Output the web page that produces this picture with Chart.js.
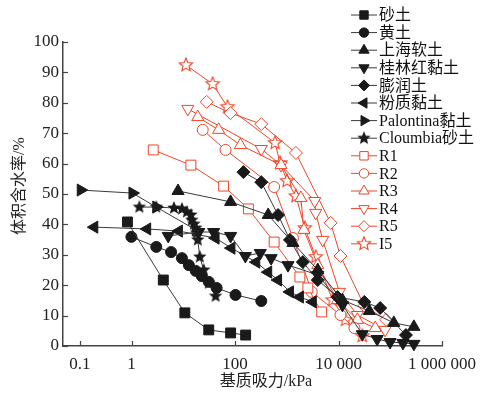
<!DOCTYPE html>
<html>
<head>
<meta charset="utf-8">
<script src="https://cdn.jsdelivr.net/npm/chart.js@4"></script>
<style>
  html, body { margin: 0; padding: 0; background: #fff; }
</style>
</head>
<body>
<canvas id="chart" width="484" height="395"></canvas>
<script>
(function () {
  'use strict';

  // suction (kPa) / volumetric water content (%)
  var shaTuX = [0.83, 4.1, 10.7, 31, 82, 160];
  var shaTuY = [40.8, 21.7, 10.9, 5.3, 4.3, 3.6];
  var huangTuX = [0.99, 3.0, 5.8, 9.4, 12.8, 17.4, 22.7, 31, 44, 102, 321];
  var huangTuY = [35.9, 32.6, 30.9, 28.9, 26.6, 24.7, 23.0, 21.1, 19.1, 16.8, 14.8];
  var shanghaiX = [7.9, 82, 437, 1315, 3960, 11900, 39300, 117000, 286000];
  var shanghaiY = [51, 47.4, 43.1, 33.9, 25, 15.1, 11.5, 7.6, 6.3];
  var guilinX = [5.1, 19.9, 38.5, 82, 158, 307, 498, 1055, 3960, 11900, 28800, 55800, 99100, 176000, 286000];
  var guilinY = [36.2, 37.5, 37.5, 36.2, 29.6, 30.6, 28.9, 26.6, 23.4, 13.5, 3.9, 2.3, 1.3, 1.0, 0.7];
  var pengrunX = [145, 321, 678, 1150, 2040, 3960, 9570, 31500, 63800, 201000];
  var pengrunY = [57.2, 53.9, 43.1, 34.9, 27.6, 21.7, 16.1, 14.5, 12.5, 3.6];
  var fenzhiX = [0.19, 2.0, 8.2, 42, 85, 257, 437, 678, 1150, 1790, 3180];
  var fenzhiY = [39.1, 38.5, 37.8, 35.5, 32.2, 27.6, 24.3, 21.7, 17.8, 16.1, 14.5];
  var palontinaX = [0.104, 1.04, 3.0, 17.4];
  var palontinaY = [51.3, 50.3, 45.7, 38.2];
  var cloumbiaX = [1.41, 3.0, 6.6, 9.4, 11.7, 14, 14.6, 16, 17.4, 18.2, 19, 20.8, 24.8, 31, 42];
  var cloumbiaY = [45.7, 45.7, 45.4, 45.1, 44.1, 43.1, 41.4, 40.1, 38.8, 37.2, 34.9, 29.3, 25, 20.7, 16.4];
  var r1X = [2.62, 14.0, 60, 181, 569, 1790, 2550, 4720];
  var r1Y = [64.5, 59.5, 52.6, 45.1, 34.2, 22.7, 19.1, 11.2];
  var r2X = [23.7, 65.5, 569, 1315, 3040, 10900, 20300];
  var r2Y = [71.1, 64.5, 52.3, 35.5, 17.8, 10.2, 5.9];
  var r3X = [19.0, 48.1, 127, 774, 1870, 2140, 3960, 9570, 23100, 51200];
  var r3Y = [75.3, 71.1, 66.1, 59.5, 48.7, 38.2, 26.6, 15.1, 8.6, 5.9];
  var r4X = [12.2, 321, 774, 3470, 3620, 4940, 10400, 23100, 79500];
  var r4Y = [78.0, 64.8, 59.5, 47.7, 43.8, 34.9, 17.8, 10.2, 5.3];
  var r5X = [28.3, 81.6, 321, 1500, 7030, 10900, 31500, 83100];
  var r5Y = [80.3, 76.6, 73.0, 63.5, 40.5, 29.6, 13.2, 8.6];
  var i5X = [11.2, 36.9, 71.5, 594, 741, 1010, 1500, 2230, 3620, 7670, 13600, 28800];
  var i5Y = [92.4, 86.2, 78.6, 66.8, 60.2, 54.3, 49.3, 38.8, 29.3, 15.1, 8.6, 3.3];

  var xTicks = [0.1, 1, 100, 10000, 1000000];
  var xTickLabels = ['0.1', '1', '100', '10 000', '1 000 000'];
  var xTitle = '基质吸力/kPa';
  var yTitle = '体积含水率/%';

  var BLACK = '#1a1a1a';
  var LINE = '#3a3a3a';
  var RED = '#ee4628';
  var FONT = '"Liberation Serif", "Noto Sans CJK SC", serif';

  function starCanvas(fill, stroke, r) {
    var s = Math.ceil(r * 2 + 4);
    var c = document.createElement('canvas');
    c.width = s; c.height = s;
    var g = c.getContext('2d');
    g.beginPath();
    for (var i = 0; i < 10; i++) {
      var a = -Math.PI / 2 + i * Math.PI / 5;
      var rr = i % 2 ? r * 0.45 : r;
      g.lineTo(s / 2 + rr * Math.cos(a), s / 2 + rr * Math.sin(a));
    }
    g.closePath();
    if (fill) { g.fillStyle = fill; g.fill(); }
    if (stroke) { g.strokeStyle = stroke; g.lineWidth = 1.1; g.stroke(); }
    return c;
  }

  function series(label, xs, ys, color, lineColor, style, rot, r, fill) {
    return {
      label: label,
      data: xs.map(function (x, i) { return { x: x, y: ys[i] }; }),
      showLine: true,
      borderColor: lineColor,
      borderWidth: 1,
      pointStyle: style,
      rotation: rot,
      pointRadius: r,
      pointHoverRadius: r,
      pointBackgroundColor: fill,
      pointBorderColor: color,
      pointBorderWidth: 1,
      clip: false
    };
  }

  var datasets = [
    series('砂土', shaTuX, shaTuY, BLACK, LINE, 'rect', 0, 7, BLACK),
    series('黄土', huangTuX, huangTuY, BLACK, LINE, 'circle', 0, 5.5, BLACK),
    series('上海软土', shanghaiX, shanghaiY, BLACK, LINE, 'triangle', 0, 7, BLACK),
    series('桂林红黏土', guilinX, guilinY, BLACK, LINE, 'triangle', 180, 7, BLACK),
    series('膨润土', pengrunX, pengrunY, BLACK, LINE, 'rectRot', 0, 6.5, BLACK),
    series('粉质黏土', fenzhiX, fenzhiY, BLACK, LINE, 'triangle', 270, 7, BLACK),
    series('Palontina黏土', palontinaX, palontinaY, BLACK, LINE, 'triangle', 90, 7, BLACK),
    series('Cloumbia砂土', cloumbiaX, cloumbiaY, BLACK, LINE, starCanvas(BLACK, null, 7), 0, 7, BLACK),
    series('R1', r1X, r1Y, RED, RED, 'rect', 0, 7, '#fff'),
    series('R2', r2X, r2Y, RED, RED, 'circle', 0, 5.5, '#fff'),
    series('R3', r3X, r3Y, RED, RED, 'triangle', 0, 7, '#fff'),
    series('R4', r4X, r4Y, RED, RED, 'triangle', 180, 7, '#fff'),
    series('R5', r5X, r5Y, RED, RED, 'rectRot', 0, 6.5, '#fff'),
    series('I5', i5X, i5Y, RED, RED, starCanvas('#fff', RED, 7), 0, 7, '#fff')
  ];

  var decor = {
    id: 'decor',
    afterDraw: function (chart) {
      var ctx = chart.ctx;
      var xs = chart.scales.x, ys = chart.scales.y;
      ctx.save();
      // inward tick marks
      ctx.strokeStyle = '#444';
      ctx.lineWidth = 1.2;
      ys.ticks.forEach(function (t) {
        var p = Math.round(ys.getPixelForValue(t.value)) + 0.5;
        ctx.beginPath(); ctx.moveTo(xs.left, p); ctx.lineTo(xs.left + 5, p); ctx.stroke();
      });
      xs.ticks.forEach(function (t) {
        var p = Math.round(xs.getPixelForValue(t.value)) + 0.5;
        ctx.beginPath(); ctx.moveTo(p, ys.bottom); ctx.lineTo(p, ys.bottom - 5); ctx.stroke();
      });

      // axis titles
      ctx.fillStyle = '#222';
      ctx.font = '16px ' + FONT;
      ctx.textAlign = 'center';
      ctx.textBaseline = 'middle';
      ctx.fillText(xTitle, 266, 382);
      ctx.save();
      ctx.translate(20, 186);
      ctx.rotate(-Math.PI / 2);
      ctx.fillText(yTitle, 0, 0);
      ctx.restore();

      // legend
      ctx.textAlign = 'left';
      ctx.font = '16px ' + FONT;
      chart.data.datasets.forEach(function (ds, i) {
        var y = 15 + i * 17.6;
        ctx.strokeStyle = ds.borderColor;
        ctx.lineWidth = 1;
        ctx.beginPath(); ctx.moveTo(351, y); ctx.lineTo(377, y); ctx.stroke();
        ctx.fillStyle = ds.pointBackgroundColor;
        ctx.strokeStyle = ds.pointBorderColor;
        Chart.helpers.drawPoint(ctx, {
          pointStyle: ds.pointStyle,
          rotation: ds.rotation,
          radius: ds.pointRadius * 0.85,
          borderWidth: 1
        }, 364, y);
        ctx.fillStyle = '#111';
        ctx.fillText(ds.label, 379, y + 1);
      });
      ctx.restore();
    }
  };

  new Chart(document.getElementById('chart').getContext('2d'), {
    type: 'scatter',
    data: { datasets: datasets },
    options: {
      responsive: false,
      animation: false,
      layout: { padding: { top: 42, right: 39, left: 0, bottom: 0 } },
      plugins: { legend: { display: false }, tooltip: { enabled: false } },
      scales: {
        x: {
          type: 'logarithmic',
          min: 0.0472,
          max: 1000000,
          afterBuildTicks: function (axis) {
            axis.ticks = xTicks.map(function (v) { return { value: v }; });
          },
          afterFit: function (s) { s.height = 49; },
          ticks: {
            autoSkip: false,
            maxRotation: 0,
            padding: 8,
            color: '#222',
            font: { family: FONT, size: 17 },
            callback: function (v) {
              var k = xTicks.indexOf(v);
              return k >= 0 ? xTickLabels[k] : '';
            }
          },
          grid: { display: true, drawOnChartArea: false, drawTicks: false },
          border: { color: '#444', width: 1.5 }
        },
        y: {
          min: 0,
          max: 100,
          afterFit: function (s) { s.width = 63; },
          ticks: {
            stepSize: 10,
            padding: 4,
            color: '#222',
            font: { family: FONT, size: 17 }
          },
          grid: { display: true, drawOnChartArea: false, drawTicks: false },
          border: { color: '#444', width: 1.5 }
        }
      }
    },
    plugins: [decor]
  });
})();
</script>
</body>
</html>
